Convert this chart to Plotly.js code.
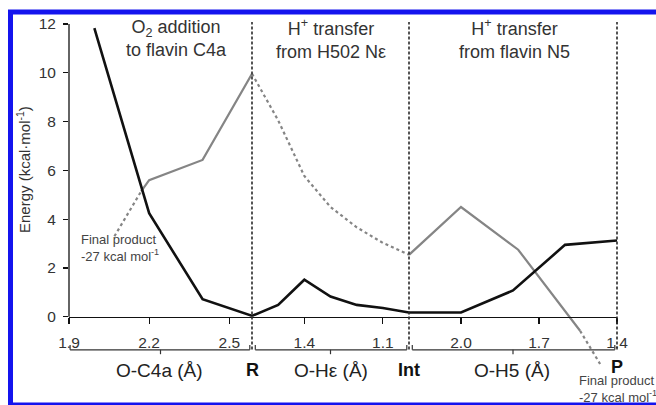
<!DOCTYPE html>
<html>
<head>
<meta charset="utf-8">
<script src="https://cdn.plot.ly/plotly-3.0.1.min.js"></script>
<style>html,body{margin:0;padding:0;background:#fff;}#chart{width:656px;height:405px;}</style>
</head>
<body>
<div id="chart"></div>
<script>
// ---- data ----
// Segment 1: O-C4a distance (Å), reactant R at 2.585
const seg1Ticks = [1.9, 2.2, 2.5];
const seg1Range = [1.9, 2.585];
const blackSeg1X = [1.995, 2.004, 2.2, 2.4, 2.585];
const blackSeg1Y = [11.83, 11.49, 4.25, 0.72, 0.04];
const graySeg1DotX = [2.07, 2.17];
const graySeg1DotY = [3.3, 5.14];
const graySeg1X = [2.17, 2.2, 2.4, 2.585];
const graySeg1Y = [5.14, 5.6, 6.43, 9.96];

// Segment 2: O-Hε distance (Å), R (1.6) -> Int (1.0)
const seg2Ticks = [1.4, 1.1];
const seg2Range = [1.6, 1.0];
const blackSeg2X = [1.6, 1.5, 1.4, 1.3, 1.2, 1.1, 1.0];
const blackSeg2Y = [0.04, 0.49, 1.52, 0.83, 0.49, 0.36, 0.18];
const graySeg2DotX = [1.6, 1.5, 1.4, 1.3, 1.2, 1.1, 1.0];
const graySeg2DotY = [9.96, 8.05, 5.77, 4.5, 3.67, 3.03, 2.54];

// Segment 3: O-H5 distance (Å), Int (2.2) -> P (1.4)
const seg3Ticks = [2.0, 1.7, 1.4];
const seg3TickText = ['2.0', '1.7', '1.4'];
const seg3Range = [2.2, 1.4];
const blackSeg3X = [2.2, 2.0, 1.8, 1.6, 1.4];
const blackSeg3Y = [0.18, 0.18, 1.08, 2.95, 3.13];
const graySeg3X = [2.2, 2.0, 1.78, 1.542];
const graySeg3Y = [2.54, 4.5, 2.75, -0.57];
const graySeg3DotX = [1.542, 1.465];
const graySeg3DotY = [-0.57, -1.93];

const yTicks = [0, 2, 4, 6, 8, 10, 12];
const headers = ['O<sub>2</sub> addition<br>to flavin C4a', 'H<sup>+</sup> transfer<br>from H502 Nε', 'H<sup>+</sup> transfer<br>from flavin N5'];
const coordLabels = ['O-C4a (Å)', 'O-Hε (Å)', 'O-H5 (Å)'];
const stateLabels = ['R', 'Int', 'P'];
const productNote = 'Final product<br>-27 kcal mol<sup>-1</sup>';

// ---- layout geometry ----
const W = 656, H = 405;
const M = {l: 69, r: 39, t: 22, b: 32};
const plotW = W - M.l - M.r, plotH = H - M.t - M.b;
const yRange = [-2.3, 12.08];
const d1 = 183 / plotW, d2 = 340 / plotW;
const doms = [[0, d1], [d1, d2], [d2, 1]];
const px = v => (v - M.l) / plotW;          // pixel x -> paper
const py = v => 1 - (v - M.t) / plotH;      // pixel y -> paper
const axisPos = (0 - yRange[0]) / (yRange[1] - yRange[0]);

const FONT = '"Liberation Sans", Arial, sans-serif';
const BLACK = '#111111', GRAY = '#858585';

function line(x, y, xa, color, width, dash) {
  return {x: x, y: y, xaxis: xa, yaxis: 'y', type: 'scatter', mode: 'lines',
    line: {color: color, width: width, dash: dash || 'solid'}, hoverinfo: 'skip', showlegend: false};
}

const traces = [
  line(graySeg1DotX, graySeg1DotY, 'x', GRAY, 2.2, 'dot'),
  line(graySeg1X, graySeg1Y, 'x', GRAY, 2.2),
  line(graySeg2DotX, graySeg2DotY, 'x2', GRAY, 2.2, 'dot'),
  line(graySeg3X, graySeg3Y, 'x3', GRAY, 2.2),
  line(graySeg3DotX, graySeg3DotY, 'x3', GRAY, 2.2, 'dot'),
  line(blackSeg1X, blackSeg1Y, 'x', BLACK, 2.6),
  line(blackSeg2X, blackSeg2Y, 'x2', BLACK, 2.6),
  line(blackSeg3X, blackSeg3Y, 'x3', BLACK, 2.6)
];

function xAxis(dom, range, ticks, text) {
  return {domain: dom, range: range, anchor: 'free', position: axisPos,
    showline: true, linecolor: '#111', linewidth: 1.3, showgrid: false, zeroline: false,
    ticks: 'outside', ticklen: 6, tickwidth: 1.2, tickcolor: '#111',
    tickmode: 'array', tickvals: ticks, ticktext: text || ticks.map(v => v.toFixed(1)),
    tickfont: {size: 15.5, color: '#333', family: FONT}, ticklabelstandoff: 5, fixedrange: true};
}

const shapes = [];
// y axis line from 0 to 12
shapes.push({type: 'line', xref: 'paper', yref: 'y', x0: 0, x1: 0, y0: 0, y1: 12, line: {color: '#111', width: 1.3}});
// dashed separators at R, Int, P
[d1, d2, 1].forEach(p => shapes.push({type: 'line', xref: 'paper', yref: 'y', x0: p, x1: p, y0: 12.1, y1: -1.4,
  line: {color: '#2a2a2a', width: 1.6, dash: '3px,2px'}}));
// brackets under each segment
const bY = -1.35;
doms.forEach((d, i) => {
  const a = d[0] + (i === 0 ? 0.002 : 0.006), b = d[1] - 0.004, c = (d[0] + d[1]) / 2;
  shapes.push({type: 'line', xref: 'paper', yref: 'y', x0: a, x1: b, y0: bY, y1: bY, line: {color: '#333', width: 1.3}});
  shapes.push({type: 'line', xref: 'paper', yref: 'y', x0: a, x1: a, y0: bY, y1: bY + 0.2, line: {color: '#333', width: 1.2}});
  shapes.push({type: 'line', xref: 'paper', yref: 'y', x0: b, x1: b, y0: bY, y1: bY + 0.2, line: {color: '#333', width: 1.2}});
  shapes.push({type: 'line', xref: 'paper', yref: 'y', x0: c, x1: c, y0: bY, y1: bY - 0.18, line: {color: '#333', width: 1.2}});
});
// blue frame
shapes.push({type: 'rect', xref: 'paper', yref: 'paper', x0: px(10.5), x1: px(665), y0: py(12), y1: py(405),
  line: {color: '#1414ee', width: 5}, fillcolor: 'rgba(0,0,0,0)'});

const ann = [];
const headerX = [176, 330.5, 514];
headers.forEach((t, i) => ann.push({text: t, xref: 'paper', yref: 'paper', x: px(headerX[i]), y: py(38.5),
  xanchor: 'center', yanchor: 'middle', showarrow: false, font: {size: 18, color: '#333', family: FONT}}));
const coordX = [159, 331, 512];
coordLabels.forEach((t, i) => ann.push({text: t, xref: 'paper', yref: 'paper', x: px(coordX[i]), y: py(370),
  xanchor: 'center', yanchor: 'middle', showarrow: false, font: {size: 19, color: '#222', family: FONT}}));
const stateX = [d1, d2, 1], stateY = [370, 370, 367];
stateLabels.forEach((t, i) => ann.push({text: '<b>' + t + '</b>', xref: 'paper', yref: 'paper', x: stateX[i], y: py(stateY[i]),
  xanchor: 'center', yanchor: 'middle', showarrow: false, font: {size: 18, color: '#111', family: FONT}}));
ann.push({text: productNote, xref: 'paper', yref: 'paper', x: px(79), y: py(248), xanchor: 'left', yanchor: 'middle',
  align: 'left', showarrow: false, font: {size: 13, color: '#444', family: FONT}});
ann.push({text: productNote, xref: 'paper', yref: 'paper', x: px(577), y: py(389), xanchor: 'left', yanchor: 'middle',
  align: 'left', showarrow: false, font: {size: 13, color: '#444', family: FONT}});
ann.push({text: 'Energy (kcal·mol<sup>-1</sup>)', xref: 'paper', yref: 'paper', x: px(23), y: py(170), textangle: -90,
  xanchor: 'center', yanchor: 'middle', showarrow: false, font: {size: 15, color: '#333', family: FONT}});

const layout = {
  width: W, height: H, margin: M, paper_bgcolor: '#fff', plot_bgcolor: 'rgba(0,0,0,0)',
  font: {family: FONT, color: '#333'}, showlegend: false,
  xaxis: xAxis(doms[0], seg1Range, seg1Ticks),
  xaxis2: xAxis(doms[1], seg2Range, seg2Ticks),
  xaxis3: xAxis(doms[2], seg3Range, seg3Ticks, seg3TickText),
  yaxis: {range: yRange, showline: false, showgrid: false, zeroline: false, ticks: 'outside', ticklen: 5,
    tickwidth: 1.2, tickcolor: '#111', tickmode: 'array', tickvals: yTicks,
    tickfont: {size: 15.5, color: '#333', family: FONT}, ticklabelstandoff: 4, fixedrange: true},
  shapes: shapes, annotations: ann
};

Plotly.newPlot('chart', traces, layout, {displayModeBar: false, staticPlot: true});
</script>
</body>
</html>
